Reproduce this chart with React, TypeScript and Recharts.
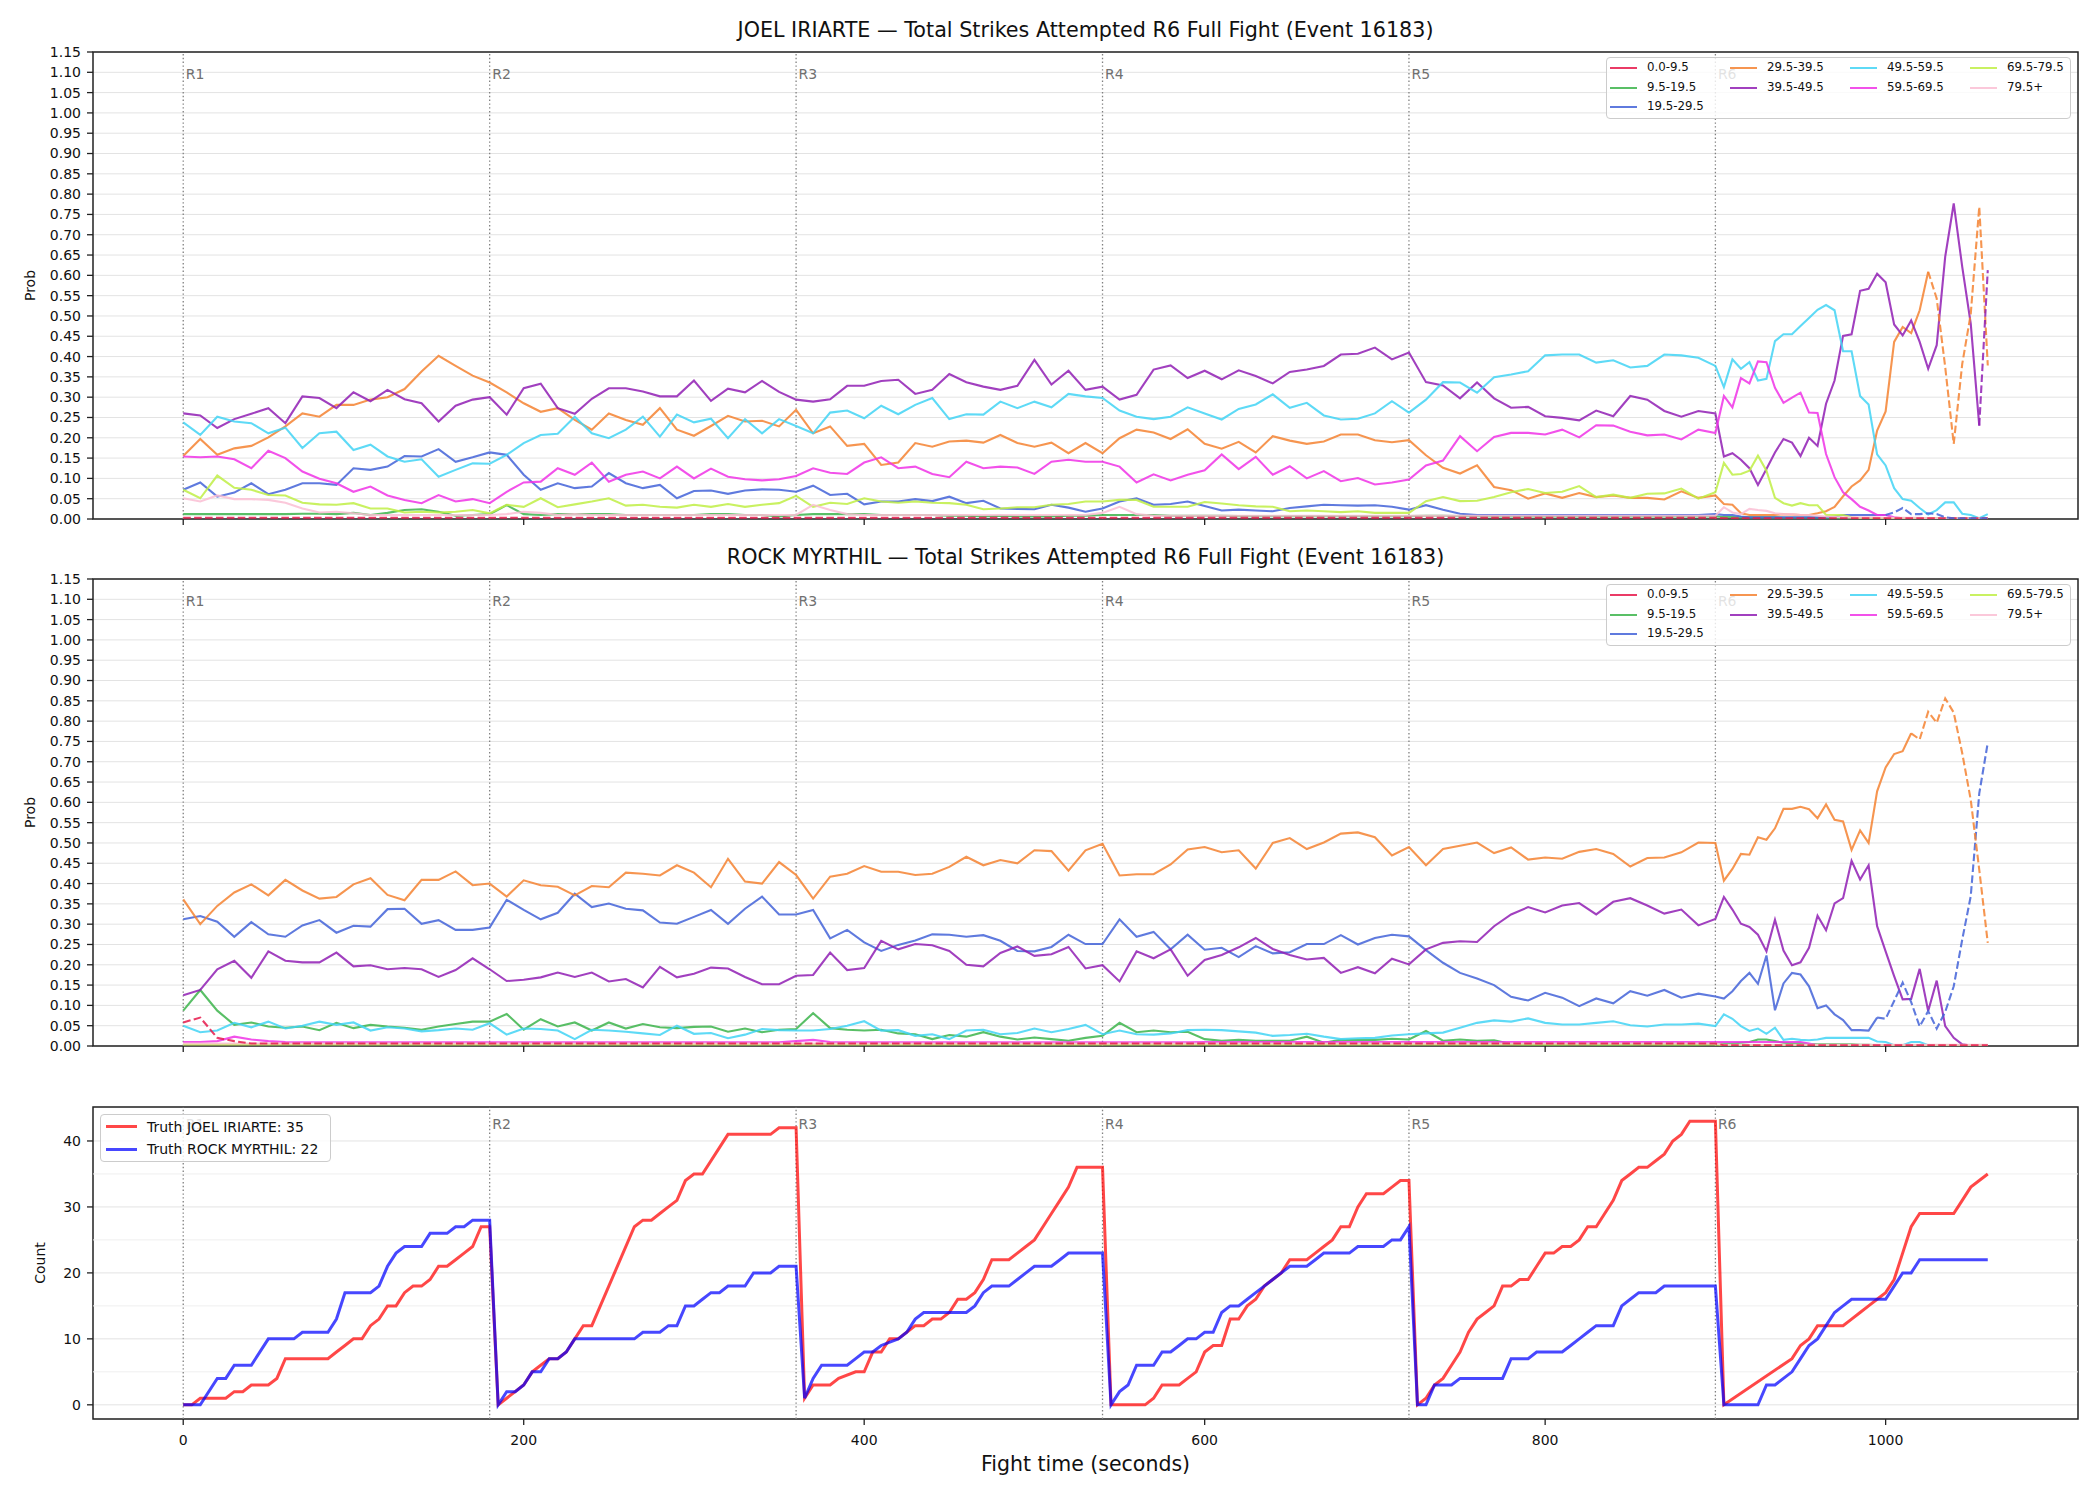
import React from 'react';
import { LineChart, Line, XAxis, YAxis, CartesianGrid, ReferenceLine, ReferenceArea } from 'recharts';

const FONT = '"DejaVu Sans", Verdana, sans-serif';

// ---- categories / ticks ----
const bins = ['0.0-9.5', '9.5-19.5', '19.5-29.5', '29.5-39.5', '39.5-49.5', '49.5-59.5', '59.5-69.5', '69.5-79.5', '79.5+'];
const binColors = ['#e6194b', '#3cb44b', '#4363d8', '#f58231', '#911eb4', '#42d4f4', '#f032e6', '#bfef45', '#fabed4'];
const legendColumns = [[0, 1, 2], [3, 4], [5, 6], [7, 8]];
const roundStarts = [0, 180, 360, 540, 720, 900];
const roundLabels = ['R1', 'R2', 'R3', 'R4', 'R5', 'R6'];
const timeTicks = [0, 200, 400, 600, 800, 1000];
const probTicks = [0, 0.05, 0.1, 0.15, 0.2, 0.25, 0.3, 0.35, 0.4, 0.45, 0.5, 0.55, 0.6, 0.65, 0.7, 0.75, 0.8, 0.85, 0.9, 0.95, 1.0, 1.05, 1.1, 1.15];
const countTicks = [0, 10, 20, 30, 40];
const countMinorGrid = [5, 15, 25, 35];

// sample times (s): every 10 s through R5, every 5 s in R6
const times = [
  0, 10, 20, 30, 40, 50, 60, 70, 80, 90,
  100, 110, 120, 130, 140, 150, 160, 170, 180, 190,
  200, 210, 220, 230, 240, 250, 260, 270, 280, 290,
  300, 310, 320, 330, 340, 350, 360, 370, 380, 390,
  400, 410, 420, 430, 440, 450, 460, 470, 480, 490,
  500, 510, 520, 530, 540, 550, 560, 570, 580, 590,
  600, 610, 620, 630, 640, 650, 660, 670, 680, 690,
  700, 710, 720, 730, 740, 750, 760, 770, 780, 790,
  800, 810, 820, 830, 840, 850, 860, 870, 880, 890,
  900,
  905, 910, 915, 920, 925, 930, 935, 940, 945, 950,
  955, 960, 965, 970, 975, 980, 985, 990, 995, 1000,
  1005, 1010, 1015, 1020, 1025, 1030, 1035, 1040, 1045, 1050,
  1055, 1060,
];

// ---- JOEL IRIARTE probabilities ----
const joelB0 = [
  0.003, 0.003, 0.003, 0.003, 0.003, 0.003, 0.003, 0.003, 0.003, 0.003,
  0.003, 0.003, 0.003, 0.003, 0.003, 0.003, 0.003, 0.003, 0.003, 0.003,
  0.003, 0.003, 0.003, 0.003, 0.003, 0.003, 0.003, 0.003, 0.003, 0.003,
  0.003, 0.003, 0.003, 0.003, 0.003, 0.003, 0.003, 0.003, 0.003, 0.003,
  0.003, 0.003, 0.003, 0.003, 0.003, 0.003, 0.003, 0.003, 0.003, 0.003,
  0.003, 0.003, 0.003, 0.003, 0.003, 0.003, 0.003, 0.003, 0.003, 0.003,
  0.003, 0.003, 0.003, 0.003, 0.003, 0.003, 0.003, 0.003, 0.003, 0.003,
  0.003, 0.003, 0.003, 0.003, 0.003, 0.003, 0.003, 0.003, 0.003, 0.003,
  0.003, 0.003, 0.003, 0.003, 0.003, 0.003, 0.003, 0.003, 0.003, 0.003,
  0.003,
  0.002, 0.002, 0.002, 0.002, 0.002, 0.002, 0.002, 0.002, 0.002, 0.002,
  0.002, 0.002, 0.002, 0.002, 0.002, 0.002, 0.002, 0.002, 0.002, 0.002,
  0.002, 0.002, 0.002, 0.002, 0.002, 0.002, 0.002, 0.002, 0.002, 0.002,
  0.002, 0.002,
];
const joelB1 = [
  0.012, 0.012, 0.012, 0.012, 0.012, 0.012, 0.012, 0.013, 0.013, 0.012,
  0.015, 0.010, 0.015, 0.022, 0.024, 0.018, 0.008, 0.010, 0.012, 0.034,
  0.012, 0.010, 0.012, 0.012, 0.012, 0.012, 0.010, 0.010, 0.010, 0.010,
  0.010, 0.012, 0.012, 0.010, 0.010, 0.006, 0.010, 0.012, 0.012, 0.012,
  0.012, 0.010, 0.010, 0.010, 0.010, 0.008, 0.008, 0.006, 0.008, 0.006,
  0.006, 0.006, 0.008, 0.008, 0.010, 0.010, 0.010, 0.010, 0.008, 0.008,
  0.008, 0.008, 0.007, 0.007, 0.007, 0.007, 0.007, 0.007, 0.007, 0.007,
  0.007, 0.007, 0.007, 0.008, 0.008, 0.007, 0.007, 0.006, 0.006, 0.006,
  0.006, 0.006, 0.006, 0.006, 0.006, 0.006, 0.006, 0.006, 0.006, 0.006,
  0.006,
  0.005, 0.005, 0.004, 0.004, 0.004, 0.004, 0.004, 0.003, 0.003, 0.003,
  0.003, 0.003, 0.002, 0.002, 0.002, 0.002, 0.002, 0.002, 0.001, 0.001,
  0.001, 0.001, 0.001, 0.001, 0.001, 0.001, 0.001, 0.001, 0.001, 0.001,
  0.001, 0.001,
];
const joelB2 = [
  0.072, 0.090, 0.055, 0.065, 0.088, 0.061, 0.072, 0.088, 0.088, 0.084,
  0.125, 0.121, 0.129, 0.155, 0.154, 0.172, 0.141, 0.152, 0.164, 0.158,
  0.109, 0.072, 0.088, 0.076, 0.080, 0.113, 0.088, 0.076, 0.084, 0.051,
  0.069, 0.070, 0.062, 0.070, 0.073, 0.072, 0.067, 0.082, 0.059, 0.062,
  0.036, 0.043, 0.043, 0.049, 0.044, 0.055, 0.039, 0.045, 0.026, 0.025,
  0.024, 0.035, 0.028, 0.018, 0.026, 0.043, 0.051, 0.035, 0.037, 0.043,
  0.032, 0.021, 0.023, 0.021, 0.019, 0.027, 0.031, 0.035, 0.034, 0.033,
  0.034, 0.030, 0.023, 0.034, 0.023, 0.013, 0.010, 0.010, 0.010, 0.010,
  0.010, 0.010, 0.010, 0.010, 0.010, 0.010, 0.010, 0.010, 0.010, 0.010,
  0.012,
  0.010, 0.010, 0.006, 0.004, 0.004, 0.004, 0.004, 0.004, 0.004, 0.004,
  0.004, 0.004, 0.004, 0.006, 0.010, 0.010, 0.010, 0.010, 0.010, 0.010,
  0.016, 0.027, 0.012, 0.012, 0.014, 0.012, 0.004, 0.002, 0.002, 0.002,
  0.002, 0.002,
];
const joelB3 = [
  0.155, 0.197, 0.158, 0.174, 0.180, 0.201, 0.228, 0.260, 0.252, 0.281,
  0.281, 0.294, 0.300, 0.320, 0.363, 0.402, 0.377, 0.353, 0.336, 0.312,
  0.285, 0.264, 0.273, 0.244, 0.220, 0.260, 0.244, 0.232, 0.273, 0.220,
  0.205, 0.229, 0.254, 0.240, 0.242, 0.228, 0.269, 0.211, 0.228, 0.180,
  0.185, 0.133, 0.139, 0.187, 0.178, 0.191, 0.193, 0.188, 0.207, 0.187,
  0.178, 0.188, 0.162, 0.187, 0.162, 0.199, 0.220, 0.213, 0.197, 0.221,
  0.185, 0.173, 0.190, 0.164, 0.204, 0.193, 0.185, 0.191, 0.208, 0.208,
  0.194, 0.189, 0.194, 0.157, 0.126, 0.112, 0.132, 0.079, 0.071, 0.050,
  0.063, 0.052, 0.064, 0.054, 0.058, 0.052, 0.052, 0.048, 0.068, 0.052,
  0.058,
  0.037, 0.035, 0.014, 0.010, 0.010, 0.010, 0.010, 0.012, 0.011, 0.010,
  0.010, 0.014, 0.019, 0.030, 0.056, 0.080, 0.095, 0.121, 0.218, 0.265,
  0.436, 0.473, 0.458, 0.514, 0.609, 0.543, 0.374, 0.185, 0.382, 0.505,
  0.769, 0.378,
];
const joelB4 = [
  0.260, 0.255, 0.224, 0.246, 0.259, 0.273, 0.236, 0.302, 0.298, 0.273,
  0.312, 0.290, 0.318, 0.295, 0.285, 0.240, 0.279, 0.294, 0.300, 0.257,
  0.322, 0.333, 0.273, 0.259, 0.296, 0.322, 0.322, 0.314, 0.302, 0.302,
  0.341, 0.291, 0.321, 0.312, 0.340, 0.313, 0.294, 0.289, 0.295, 0.328,
  0.328, 0.340, 0.343, 0.308, 0.318, 0.357, 0.337, 0.326, 0.318, 0.328,
  0.392, 0.331, 0.365, 0.318, 0.326, 0.294, 0.306, 0.368, 0.378, 0.347,
  0.365, 0.344, 0.366, 0.352, 0.334, 0.362, 0.368, 0.377, 0.405, 0.407,
  0.422, 0.393, 0.410, 0.337, 0.329, 0.297, 0.336, 0.297, 0.274, 0.276,
  0.253, 0.249, 0.243, 0.267, 0.253, 0.303, 0.294, 0.266, 0.252, 0.266,
  0.260,
  0.154, 0.162, 0.146, 0.125, 0.084, 0.123, 0.164, 0.197, 0.188, 0.155,
  0.200, 0.180, 0.284, 0.341, 0.451, 0.455, 0.562, 0.567, 0.604, 0.583,
  0.479, 0.452, 0.489, 0.436, 0.370, 0.428, 0.646, 0.777, 0.621, 0.481,
  0.230, 0.613,
];
const joelB5 = [
  0.238, 0.207, 0.252, 0.240, 0.236, 0.211, 0.225, 0.175, 0.211, 0.215,
  0.170, 0.183, 0.154, 0.141, 0.147, 0.104, 0.121, 0.137, 0.136, 0.158,
  0.187, 0.207, 0.210, 0.252, 0.211, 0.199, 0.220, 0.252, 0.203, 0.257,
  0.238, 0.247, 0.199, 0.246, 0.211, 0.246, 0.229, 0.211, 0.262, 0.267,
  0.248, 0.279, 0.258, 0.281, 0.298, 0.246, 0.258, 0.257, 0.289, 0.273,
  0.289, 0.275, 0.308, 0.302, 0.298, 0.267, 0.252, 0.246, 0.252, 0.275,
  0.260, 0.245, 0.271, 0.282, 0.307, 0.274, 0.286, 0.255, 0.245, 0.247,
  0.260, 0.290, 0.262, 0.294, 0.337, 0.336, 0.311, 0.349, 0.356, 0.364,
  0.403, 0.405, 0.405, 0.385, 0.391, 0.373, 0.377, 0.405, 0.403, 0.397,
  0.377,
  0.325, 0.393, 0.370, 0.386, 0.341, 0.345, 0.438, 0.455, 0.455, 0.475,
  0.495, 0.515, 0.527, 0.514, 0.413, 0.413, 0.303, 0.282, 0.159, 0.132,
  0.076, 0.049, 0.045, 0.027, 0.011, 0.022, 0.041, 0.041, 0.013, 0.010,
  0.002, 0.012,
];
const joelB6 = [
  0.154, 0.152, 0.154, 0.147, 0.125, 0.168, 0.150, 0.117, 0.099, 0.088,
  0.067, 0.080, 0.058, 0.047, 0.039, 0.059, 0.043, 0.049, 0.039, 0.067,
  0.090, 0.092, 0.125, 0.109, 0.139, 0.092, 0.109, 0.117, 0.100, 0.129,
  0.100, 0.124, 0.104, 0.098, 0.095, 0.098, 0.106, 0.125, 0.114, 0.111,
  0.139, 0.152, 0.125, 0.129, 0.111, 0.103, 0.141, 0.125, 0.129, 0.127,
  0.111, 0.141, 0.146, 0.141, 0.141, 0.129, 0.090, 0.110, 0.095, 0.109,
  0.120, 0.159, 0.123, 0.153, 0.109, 0.130, 0.100, 0.118, 0.093, 0.101,
  0.085, 0.090, 0.097, 0.132, 0.144, 0.204, 0.167, 0.202, 0.212, 0.212,
  0.208, 0.220, 0.201, 0.231, 0.230, 0.215, 0.206, 0.208, 0.196, 0.220,
  0.212,
  0.303, 0.275, 0.347, 0.334, 0.388, 0.386, 0.323, 0.286, 0.299, 0.311,
  0.262, 0.261, 0.160, 0.103, 0.066, 0.049, 0.030, 0.021, 0.010, 0.010,
  0.004, 0.002, 0.001, 0.001, 0.001, 0.001, 0.001, 0.001, 0.001, 0.001,
  0.001, 0.001,
];
const joelB7 = [
  0.072, 0.051, 0.107, 0.077, 0.072, 0.059, 0.058, 0.040, 0.036, 0.035,
  0.039, 0.026, 0.026, 0.016, 0.018, 0.016, 0.018, 0.022, 0.014, 0.035,
  0.030, 0.051, 0.029, 0.036, 0.043, 0.051, 0.033, 0.035, 0.030, 0.028,
  0.035, 0.030, 0.037, 0.030, 0.035, 0.039, 0.057, 0.030, 0.040, 0.037,
  0.051, 0.043, 0.040, 0.043, 0.040, 0.039, 0.035, 0.024, 0.026, 0.029,
  0.029, 0.035, 0.037, 0.043, 0.043, 0.047, 0.047, 0.030, 0.030, 0.030,
  0.042, 0.038, 0.034, 0.031, 0.030, 0.019, 0.021, 0.019, 0.017, 0.019,
  0.015, 0.015, 0.015, 0.044, 0.054, 0.044, 0.045, 0.054, 0.066, 0.074,
  0.064, 0.067, 0.081, 0.054, 0.060, 0.052, 0.062, 0.063, 0.075, 0.050,
  0.066,
  0.138, 0.109, 0.111, 0.119, 0.156, 0.119, 0.052, 0.039, 0.033, 0.039,
  0.034, 0.034, 0.010, 0.010, 0.010, 0.004, 0.002, 0.002, 0.002, 0.002,
  0.002, 0.002, 0.002, 0.002, 0.002, 0.002, 0.002, 0.002, 0.002, 0.002,
  0.002, 0.002,
];
const joelB8 = [
  0.051, 0.043, 0.058, 0.049, 0.049, 0.047, 0.040, 0.026, 0.016, 0.018,
  0.014, 0.010, 0.010, 0.010, 0.010, 0.010, 0.010, 0.010, 0.010, 0.012,
  0.018, 0.015, 0.010, 0.012, 0.010, 0.010, 0.010, 0.010, 0.010, 0.010,
  0.010, 0.010, 0.010, 0.010, 0.010, 0.010, 0.010, 0.035, 0.022, 0.012,
  0.010, 0.010, 0.010, 0.010, 0.010, 0.010, 0.010, 0.010, 0.010, 0.010,
  0.010, 0.010, 0.010, 0.010, 0.015, 0.030, 0.012, 0.008, 0.008, 0.008,
  0.008, 0.008, 0.008, 0.008, 0.008, 0.008, 0.008, 0.008, 0.008, 0.008,
  0.008, 0.008, 0.008, 0.008, 0.008, 0.008, 0.008, 0.008, 0.008, 0.008,
  0.008, 0.008, 0.008, 0.008, 0.008, 0.008, 0.008, 0.008, 0.008, 0.008,
  0.008,
  0.029, 0.016, 0.012, 0.025, 0.022, 0.020, 0.014, 0.012, 0.012, 0.010,
  0.010, 0.008, 0.006, 0.005, 0.004, 0.004, 0.004, 0.004, 0.004, 0.003,
  0.003, 0.003, 0.003, 0.003, 0.002, 0.002, 0.002, 0.002, 0.002, 0.002,
  0.002, 0.002,
];
// time from which each bin's line is drawn dashed (-1: whole line, Infinity: never)
const joelDashFrom = [-1, Infinity, 1000, 1025, 1055, Infinity, Infinity, Infinity, Infinity];

// ---- ROCK MYRTHIL probabilities ----
const rockB0 = [
  0.058, 0.070, 0.020, 0.012, 0.006, 0.006, 0.006, 0.006, 0.006, 0.006,
  0.006, 0.006, 0.006, 0.006, 0.006, 0.006, 0.006, 0.006, 0.006, 0.006,
  0.006, 0.006, 0.006, 0.006, 0.006, 0.006, 0.006, 0.006, 0.006, 0.006,
  0.006, 0.006, 0.006, 0.006, 0.006, 0.006, 0.006, 0.006, 0.006, 0.006,
  0.006, 0.006, 0.006, 0.006, 0.006, 0.006, 0.006, 0.006, 0.006, 0.006,
  0.006, 0.006, 0.006, 0.006, 0.006, 0.006, 0.006, 0.006, 0.006, 0.006,
  0.006, 0.006, 0.006, 0.006, 0.006, 0.006, 0.006, 0.006, 0.006, 0.006,
  0.006, 0.006, 0.006, 0.006, 0.006, 0.006, 0.006, 0.006, 0.006, 0.006,
  0.006, 0.006, 0.006, 0.006, 0.006, 0.006, 0.006, 0.006, 0.006, 0.006,
  0.006,
  0.002, 0.002, 0.002, 0.002, 0.002, 0.002, 0.002, 0.002, 0.002, 0.002,
  0.002, 0.002, 0.002, 0.002, 0.002, 0.002, 0.002, 0.002, 0.002, 0.002,
  0.002, 0.002, 0.002, 0.002, 0.002, 0.002, 0.002, 0.002, 0.002, 0.002,
  0.002, 0.002,
];
const rockB1 = [
  0.087, 0.138, 0.087, 0.052, 0.058, 0.048, 0.045, 0.048, 0.039, 0.057,
  0.044, 0.052, 0.048, 0.045, 0.040, 0.048, 0.054, 0.060, 0.060, 0.079,
  0.040, 0.066, 0.048, 0.058, 0.038, 0.058, 0.043, 0.054, 0.046, 0.044,
  0.047, 0.048, 0.035, 0.043, 0.034, 0.040, 0.042, 0.081, 0.044, 0.040,
  0.038, 0.040, 0.031, 0.029, 0.017, 0.027, 0.023, 0.034, 0.023, 0.016,
  0.021, 0.017, 0.013, 0.020, 0.025, 0.057, 0.034, 0.038, 0.034, 0.035,
  0.017, 0.013, 0.015, 0.013, 0.013, 0.013, 0.023, 0.008, 0.015, 0.015,
  0.015, 0.018, 0.016, 0.037, 0.013, 0.016, 0.013, 0.014, 0.005, 0.004,
  0.004, 0.004, 0.006, 0.004, 0.004, 0.004, 0.006, 0.004, 0.004, 0.004,
  0.006,
  0.006, 0.006, 0.008, 0.010, 0.016, 0.016, 0.012, 0.008, 0.006, 0.006,
  0.005, 0.004, 0.004, 0.004, 0.004, 0.004, 0.003, 0.003, 0.002, 0.002,
  0.001, 0.001, 0.001, 0.001, 0.001, 0.001, 0.001, 0.001, 0.001, 0.001,
  0.001, 0.001,
];
const rockB2 = [
  0.312, 0.320, 0.306, 0.269, 0.305, 0.275, 0.269, 0.297, 0.310, 0.279,
  0.296, 0.294, 0.337, 0.338, 0.301, 0.310, 0.286, 0.286, 0.292, 0.360,
  0.335, 0.312, 0.328, 0.375, 0.342, 0.351, 0.338, 0.334, 0.304, 0.301,
  0.318, 0.335, 0.301, 0.338, 0.368, 0.324, 0.324, 0.335, 0.265, 0.286,
  0.255, 0.234, 0.249, 0.260, 0.275, 0.274, 0.269, 0.273, 0.259, 0.234,
  0.233, 0.244, 0.274, 0.251, 0.251, 0.312, 0.269, 0.281, 0.238, 0.274,
  0.237, 0.242, 0.219, 0.246, 0.228, 0.231, 0.251, 0.251, 0.273, 0.250,
  0.266, 0.274, 0.270, 0.236, 0.205, 0.180, 0.166, 0.150, 0.121, 0.112,
  0.131, 0.119, 0.098, 0.117, 0.105, 0.135, 0.124, 0.138, 0.119, 0.129,
  0.122,
  0.117, 0.135, 0.160, 0.180, 0.153, 0.223, 0.088, 0.154, 0.180, 0.176,
  0.147, 0.093, 0.100, 0.078, 0.064, 0.039, 0.039, 0.038, 0.070, 0.067,
  0.111, 0.156, 0.108, 0.048, 0.086, 0.043, 0.084, 0.147, 0.262, 0.369,
  0.622, 0.747,
];
const rockB3 = [
  0.361, 0.300, 0.345, 0.378, 0.398, 0.371, 0.409, 0.383, 0.363, 0.367,
  0.398, 0.413, 0.372, 0.359, 0.409, 0.409, 0.430, 0.396, 0.400, 0.368,
  0.408, 0.396, 0.392, 0.371, 0.394, 0.391, 0.427, 0.424, 0.420, 0.445,
  0.427, 0.391, 0.461, 0.405, 0.400, 0.453, 0.421, 0.363, 0.417, 0.424,
  0.443, 0.429, 0.429, 0.421, 0.424, 0.441, 0.466, 0.445, 0.458, 0.450,
  0.482, 0.480, 0.432, 0.482, 0.498, 0.420, 0.423, 0.423, 0.447, 0.484,
  0.490, 0.477, 0.482, 0.437, 0.500, 0.512, 0.485, 0.501, 0.523, 0.526,
  0.514, 0.469, 0.490, 0.445, 0.485, 0.493, 0.501, 0.475, 0.489, 0.459,
  0.464, 0.461, 0.478, 0.485, 0.473, 0.442, 0.463, 0.464, 0.477, 0.501,
  0.500,
  0.407, 0.436, 0.473, 0.471, 0.514, 0.508, 0.536, 0.584, 0.584, 0.589,
  0.583, 0.561, 0.595, 0.557, 0.553, 0.483, 0.531, 0.500, 0.627, 0.686,
  0.719, 0.726, 0.770, 0.755, 0.823, 0.796, 0.856, 0.821, 0.721, 0.606,
  0.434, 0.254,
];
const rockB4 = [
  0.125, 0.138, 0.189, 0.210, 0.168, 0.233, 0.210, 0.206, 0.206, 0.230,
  0.196, 0.199, 0.189, 0.192, 0.189, 0.170, 0.187, 0.216, 0.189, 0.160,
  0.163, 0.169, 0.181, 0.170, 0.181, 0.159, 0.165, 0.144, 0.195, 0.169,
  0.178, 0.193, 0.191, 0.170, 0.152, 0.152, 0.173, 0.175, 0.230, 0.187,
  0.192, 0.259, 0.238, 0.251, 0.248, 0.234, 0.200, 0.196, 0.229, 0.245,
  0.222, 0.226, 0.244, 0.191, 0.199, 0.159, 0.233, 0.216, 0.238, 0.173,
  0.212, 0.224, 0.243, 0.266, 0.239, 0.224, 0.213, 0.217, 0.180, 0.194,
  0.179, 0.215, 0.201, 0.238, 0.254, 0.258, 0.256, 0.295, 0.324, 0.342,
  0.329, 0.346, 0.352, 0.324, 0.355, 0.364, 0.346, 0.326, 0.336, 0.297,
  0.313,
  0.367, 0.336, 0.301, 0.293, 0.274, 0.233, 0.311, 0.235, 0.199, 0.206,
  0.242, 0.321, 0.285, 0.351, 0.364, 0.456, 0.410, 0.445, 0.295, 0.233,
  0.172, 0.115, 0.116, 0.190, 0.086, 0.161, 0.049, 0.020, 0.004, 0.001,
  0.001, 0.001,
];
const rockB5 = [
  0.050, 0.034, 0.038, 0.057, 0.046, 0.060, 0.043, 0.050, 0.060, 0.052,
  0.058, 0.038, 0.046, 0.043, 0.036, 0.039, 0.043, 0.040, 0.056, 0.028,
  0.043, 0.042, 0.038, 0.017, 0.040, 0.038, 0.035, 0.031, 0.027, 0.050,
  0.030, 0.032, 0.019, 0.028, 0.042, 0.039, 0.038, 0.038, 0.042, 0.050,
  0.061, 0.038, 0.039, 0.025, 0.029, 0.017, 0.038, 0.040, 0.029, 0.032,
  0.043, 0.034, 0.042, 0.052, 0.029, 0.038, 0.029, 0.028, 0.031, 0.039,
  0.040, 0.039, 0.036, 0.033, 0.025, 0.027, 0.030, 0.023, 0.017, 0.019,
  0.020, 0.026, 0.029, 0.031, 0.033, 0.045, 0.057, 0.063, 0.060, 0.068,
  0.057, 0.053, 0.053, 0.057, 0.061, 0.051, 0.048, 0.053, 0.053, 0.055,
  0.049,
  0.078, 0.067, 0.049, 0.037, 0.043, 0.030, 0.045, 0.015, 0.018, 0.015,
  0.014, 0.016, 0.020, 0.020, 0.020, 0.020, 0.020, 0.020, 0.011, 0.010,
  0.002, 0.002, 0.010, 0.010, 0.002, 0.001, 0.001, 0.001, 0.001, 0.001,
  0.001, 0.001,
];
const rockB6 = [
  0.010, 0.010, 0.012, 0.023, 0.016, 0.012, 0.010, 0.009, 0.009, 0.009,
  0.009, 0.009, 0.009, 0.009, 0.009, 0.009, 0.009, 0.009, 0.009, 0.009,
  0.009, 0.009, 0.009, 0.009, 0.009, 0.009, 0.009, 0.009, 0.009, 0.009,
  0.009, 0.009, 0.009, 0.009, 0.009, 0.009, 0.012, 0.015, 0.010, 0.009,
  0.009, 0.009, 0.009, 0.009, 0.009, 0.009, 0.009, 0.009, 0.009, 0.009,
  0.009, 0.009, 0.009, 0.009, 0.009, 0.009, 0.009, 0.009, 0.009, 0.009,
  0.010, 0.010, 0.010, 0.010, 0.010, 0.010, 0.010, 0.010, 0.010, 0.010,
  0.010, 0.010, 0.010, 0.010, 0.010, 0.010, 0.010, 0.010, 0.010, 0.010,
  0.010, 0.010, 0.010, 0.010, 0.010, 0.010, 0.010, 0.010, 0.010, 0.010,
  0.010,
  0.010, 0.010, 0.010, 0.010, 0.010, 0.010, 0.010, 0.010, 0.010, 0.010,
  0.006, 0.002, 0.001, 0.001, 0.001, 0.001, 0.001, 0.001, 0.001, 0.001,
  0.001, 0.001, 0.001, 0.001, 0.001, 0.001, 0.001, 0.001, 0.001, 0.001,
  0.001, 0.001,
];
const rockB7 = [
  0.004, 0.004, 0.004, 0.004, 0.004, 0.004, 0.004, 0.004, 0.004, 0.004,
  0.004, 0.004, 0.004, 0.004, 0.004, 0.004, 0.004, 0.004, 0.004, 0.004,
  0.004, 0.004, 0.004, 0.004, 0.004, 0.004, 0.004, 0.004, 0.004, 0.004,
  0.004, 0.004, 0.004, 0.004, 0.004, 0.004, 0.004, 0.004, 0.004, 0.004,
  0.004, 0.004, 0.004, 0.004, 0.004, 0.004, 0.004, 0.004, 0.004, 0.004,
  0.004, 0.004, 0.004, 0.004, 0.004, 0.004, 0.004, 0.004, 0.004, 0.004,
  0.004, 0.004, 0.004, 0.004, 0.004, 0.004, 0.004, 0.004, 0.004, 0.004,
  0.004, 0.004, 0.004, 0.004, 0.004, 0.004, 0.004, 0.004, 0.004, 0.004,
  0.004, 0.004, 0.004, 0.004, 0.004, 0.004, 0.004, 0.004, 0.004, 0.004,
  0.004,
  0.002, 0.002, 0.002, 0.002, 0.002, 0.002, 0.002, 0.002, 0.002, 0.002,
  0.002, 0.002, 0.002, 0.002, 0.002, 0.002, 0.002, 0.002, 0.002, 0.002,
  0.002, 0.002, 0.002, 0.002, 0.002, 0.002, 0.002, 0.002, 0.002, 0.002,
  0.002, 0.002,
];
const rockB8 = [
  0.006, 0.006, 0.006, 0.006, 0.006, 0.006, 0.006, 0.006, 0.006, 0.006,
  0.006, 0.006, 0.006, 0.006, 0.006, 0.006, 0.006, 0.006, 0.006, 0.006,
  0.006, 0.006, 0.006, 0.006, 0.006, 0.006, 0.006, 0.006, 0.006, 0.006,
  0.006, 0.006, 0.006, 0.006, 0.006, 0.006, 0.006, 0.006, 0.006, 0.006,
  0.006, 0.006, 0.006, 0.006, 0.006, 0.006, 0.006, 0.006, 0.006, 0.006,
  0.006, 0.006, 0.006, 0.006, 0.006, 0.006, 0.006, 0.006, 0.006, 0.006,
  0.006, 0.006, 0.006, 0.006, 0.006, 0.006, 0.006, 0.006, 0.006, 0.006,
  0.006, 0.006, 0.006, 0.006, 0.006, 0.006, 0.006, 0.006, 0.006, 0.006,
  0.006, 0.006, 0.006, 0.006, 0.006, 0.006, 0.006, 0.006, 0.006, 0.006,
  0.006,
  0.003, 0.003, 0.003, 0.003, 0.003, 0.003, 0.003, 0.003, 0.003, 0.003,
  0.003, 0.003, 0.003, 0.003, 0.003, 0.003, 0.003, 0.003, 0.003, 0.003,
  0.003, 0.003, 0.003, 0.003, 0.003, 0.003, 0.003, 0.003, 0.003, 0.003,
  0.003, 0.003,
];
const rockDashFrom = [-1, Infinity, 995, 1015, Infinity, Infinity, Infinity, Infinity, Infinity];

// ---- truth counts: [time, count] vertices ----
const joelTruth = [
  [0, 0], [5, 0], [10, 1], [25, 1], [30, 2], [35, 2], [40, 3], [50, 3], [55, 4], [60, 7], [85, 7], [90, 8], [95, 9], [100, 10], [105, 10],
  [110, 12], [115, 13], [120, 15], [125, 15], [130, 17], [135, 18], [140, 18], [145, 19], [150, 21], [155, 21], [160, 22], [165, 23], [170, 24], [175, 27], [180, 27],
  [185, 0], [190, 1], [195, 2], [200, 3], [205, 5], [210, 6], [215, 7], [220, 7], [225, 8], [230, 10], [235, 12], [240, 12], [265, 27], [270, 28], [275, 28],
  [280, 29], [285, 30], [290, 31], [295, 34], [300, 35], [305, 35], [320, 41], [345, 41], [350, 42], [360, 42],
  [365, 1], [370, 3], [380, 3], [385, 4], [395, 5], [400, 5], [405, 8], [410, 8], [415, 10], [420, 10], [425, 11], [430, 12], [435, 12], [440, 13], [445, 13],
  [450, 14], [455, 16], [460, 16], [465, 17], [470, 19], [475, 22], [485, 22], [490, 23], [495, 24], [500, 25], [505, 27], [510, 29], [515, 31], [520, 33], [525, 36], [540, 36],
  [545, 0], [565, 0], [570, 1], [575, 3], [585, 3], [590, 4], [595, 5], [600, 8], [605, 9], [610, 9], [615, 13], [620, 13], [625, 15], [630, 16], [635, 18],
  [640, 19], [645, 20], [650, 22], [660, 22], [665, 23], [670, 24], [675, 25], [680, 27], [685, 27], [690, 30], [695, 32], [705, 32], [710, 33], [715, 34], [720, 34],
  [725, 0], [730, 1], [735, 3], [740, 4], [745, 6], [750, 8], [755, 11], [760, 13], [765, 14], [770, 15], [775, 18], [780, 18], [785, 19], [790, 19], [795, 21],
  [800, 23], [805, 23], [810, 24], [815, 24], [820, 25], [825, 27], [830, 27], [835, 29], [840, 31], [845, 34], [850, 35], [855, 36], [860, 36], [865, 37], [870, 38],
  [875, 40], [880, 41], [885, 43], [900, 43],
  [905, 0], [945, 7], [950, 9], [955, 10], [960, 12], [975, 12], [980, 13], [985, 14], [990, 15], [995, 16], [1000, 17], [1005, 19], [1010, 23], [1015, 27], [1020, 29],
  [1040, 29], [1045, 31], [1050, 33], [1055, 34], [1060, 35],
];
const rockTruth = [
  [0, 0], [10, 0], [20, 4], [25, 4], [30, 6], [40, 6], [50, 10], [65, 10], [70, 11], [85, 11], [90, 13], [95, 17], [110, 17], [115, 18], [120, 21],
  [125, 23], [130, 24], [140, 24], [145, 26], [155, 26], [160, 27], [165, 27], [170, 28], [180, 28],
  [185, 0], [190, 2], [195, 2], [200, 3], [205, 5], [210, 5], [215, 7], [220, 7], [225, 8], [230, 10], [265, 10], [270, 11], [280, 11], [285, 12], [290, 12],
  [295, 15], [300, 15], [305, 16], [310, 17], [315, 17], [320, 18], [330, 18], [335, 20], [345, 20], [350, 21], [360, 21],
  [365, 1], [370, 4], [375, 6], [390, 6], [395, 7], [400, 8], [405, 8], [410, 9], [420, 10], [425, 11], [430, 13], [435, 14], [460, 14], [465, 15], [470, 17],
  [475, 18], [485, 18], [490, 19], [495, 20], [500, 21], [510, 21], [515, 22], [520, 23], [540, 23],
  [545, 0], [550, 2], [555, 3], [560, 6], [570, 6], [575, 8], [580, 8], [585, 9], [590, 10], [595, 10], [600, 11], [605, 11], [610, 14], [615, 15], [620, 15],
  [625, 16], [630, 17], [635, 18], [640, 19], [645, 20], [650, 21], [660, 21], [665, 22], [670, 23], [685, 23], [690, 24], [705, 24], [710, 25], [715, 25], [720, 27],
  [725, 0], [730, 0], [735, 3], [745, 3], [750, 4], [775, 4], [780, 7], [790, 7], [795, 8], [810, 8], [815, 9], [820, 10], [825, 11], [830, 12], [840, 12],
  [845, 15], [850, 16], [855, 17], [865, 17], [870, 18], [900, 18],
  [905, 0], [925, 0], [930, 3], [935, 3], [940, 4], [945, 5], [950, 7], [955, 9], [960, 10], [965, 12], [970, 14], [975, 15], [980, 16], [1000, 16], [1005, 18],
  [1010, 20], [1015, 20], [1020, 22], [1060, 22],
];

const X_DOMAIN = [-53, 1113];

function buildRows(series, dashFrom) {
  return times.map((t, i) => {
    const row = { t };
    series.forEach((s, k) => {
      const v = s[i];
      row['s' + k] = t <= dashFrom[k] ? v : null;
      row['d' + k] = t >= dashFrom[k] ? v : null;
    });
    return row;
  });
}

const roundLabel = (text, dy) => (props) => {
  const vb = props.viewBox || {};
  return (
    <text x={(vb.x || 0) + 2.5} y={(vb.y || 0) + dy} fill="#707070" fontSize={14} fontFamily={FONT} dominantBaseline="central">
      {text}
    </text>
  );
};

const yLabel = (text, x) => (props) => {
  const vb = props.viewBox || {};
  const cy = (vb.y || 0) + (vb.height || 0) / 2;
  return (
    <text transform={`translate(${x},${cy}) rotate(-90)`} textAnchor="middle" dominantBaseline="central" fontSize={14} fill="#111" fontFamily={FONT}>
      {text}
    </text>
  );
};

function ProbLegend({ top }) {
  const rowY = [10.3, 29.7, 48.7];
  return (
    <div style={{ position: 'absolute', left: 1606, top, width: 465, height: 62, boxSizing: 'border-box', border: '1px solid #cccccc', borderRadius: 4, background: 'rgba(255,255,255,0.8)' }}>
      {legendColumns.map((col, c) =>
        col.map((k, r) => (
          <div key={k} style={{ position: 'absolute', left: 3 + c * 120, top: rowY[r] - 8, height: 16, display: 'flex', alignItems: 'center' }}>
            <div style={{ width: 27, height: 2, background: binColors[k], opacity: 0.85 }} />
            <span style={{ marginLeft: 10, fontSize: 11.8, color: '#111', whiteSpace: 'nowrap', lineHeight: 1 }}>{bins[k]}</span>
          </div>
        ))
      )}
    </div>
  );
}

function ProbPanel({ top, title, series, dashFrom }) {
  const rows = buildRows(series, dashFrom);
  return (
    <>
      <div style={{ position: 'absolute', left: 1085.5, top: top + 30, transform: 'translate(-50%,-50%)', fontSize: 20.7, whiteSpace: 'nowrap', lineHeight: 1, color: '#111' }}>
        {title}
      </div>
      <div style={{ position: 'absolute', left: 0, top }}>
        <LineChart width={2100} height={554} data={rows} margin={{ top: 52, right: 22, bottom: 5, left: 0 }}>
          <CartesianGrid vertical={false} stroke="#e3e3e3" strokeWidth={1} />
          <XAxis
            dataKey="t"
            type="number"
            domain={X_DOMAIN}
            allowDataOverflow
            ticks={timeTicks}
            tickFormatter={() => ''}
            tickSize={6}
            tickLine={{ stroke: '#222', strokeWidth: 1.3 }}
            axisLine={false}
            height={30}
          />
          <YAxis
            type="number"
            domain={[0, 1.15]}
            allowDataOverflow
            ticks={probTicks}
            interval={0}
            width={93}
            tickFormatter={(v) => v.toFixed(2)}
            tick={{ fontSize: 14, fill: '#111', fontFamily: FONT }}
            tickSize={6}
            tickMargin={6}
            tickLine={{ stroke: '#222', strokeWidth: 1.3 }}
            axisLine={false}
            label={yLabel('Prob', 29.5)}
          />
          {roundStarts.map((r, i) => (
            <ReferenceLine key={r} x={r} stroke="#808080" strokeWidth={1.3} strokeDasharray="1.4 2.4" label={roundLabel(roundLabels[i], 22)} />
          ))}
          {bins.map((b, k) => (
            <Line key={'s' + k} dataKey={'s' + k} name={b} stroke={binColors[k]} strokeOpacity={0.85} strokeWidth={2.1} dot={false} activeDot={false} isAnimationActive={false} />
          ))}
          {bins.map((b, k) =>
            dashFrom[k] !== Infinity ? (
              <Line key={'d' + k} dataKey={'d' + k} name={b + ' (dashed)'} stroke={binColors[k]} strokeOpacity={0.85} strokeWidth={2.1} strokeDasharray="7.6 3.3" dot={false} activeDot={false} isAnimationActive={false} />
            ) : null
          )}
          <ReferenceArea x1={X_DOMAIN[0]} x2={X_DOMAIN[1]} y1={0} y2={1.15} fill="none" fillOpacity={0} stroke="#222" strokeWidth={1.5} ifOverflow="visible" />
        </LineChart>
      </div>
      <ProbLegend top={top + 57} />
    </>
  );
}

function TruthPanel({ top }) {
  const joelRows = joelTruth.map(([t, v]) => ({ t, v }));
  const rockRows = rockTruth.map(([t, v]) => ({ t, v }));
  return (
    <>
      <div style={{ position: 'absolute', left: 0, top }}>
        <LineChart width={2100} height={399} margin={{ top: 52, right: 22, bottom: 5, left: 0 }}>
          <CartesianGrid vertical={false} stroke="#e3e3e3" strokeWidth={1} />
          {countMinorGrid.map((g) => (
            <ReferenceLine key={'g' + g} y={g} stroke="#efefef" strokeWidth={1} />
          ))}
          <XAxis
            dataKey="t"
            type="number"
            domain={X_DOMAIN}
            allowDataOverflow
            ticks={timeTicks}
            tickSize={6}
            tickMargin={10}
            tick={{ fontSize: 14, fill: '#111', fontFamily: FONT }}
            tickLine={{ stroke: '#222', strokeWidth: 1.3 }}
            axisLine={false}
            height={30}
          />
          <YAxis
            type="number"
            domain={[-2.15, 45.15]}
            allowDataOverflow
            ticks={countTicks}
            interval={0}
            width={93}
            tick={{ fontSize: 14, fill: '#111', fontFamily: FONT }}
            tickSize={6}
            tickMargin={6}
            tickLine={{ stroke: '#222', strokeWidth: 1.3 }}
            axisLine={false}
            label={yLabel('Count', 40)}
          />
          {roundStarts.map((r, i) => (
            <ReferenceLine key={r} x={r} stroke="#808080" strokeWidth={1.3} strokeDasharray="1.4 2.4" label={roundLabel(roundLabels[i], 16.5)} />
          ))}
          <Line data={joelRows} dataKey="v" name="Truth JOEL IRIARTE: 35" stroke="#ff0000" strokeOpacity={0.72} strokeWidth={3} dot={false} activeDot={false} isAnimationActive={false} />
          <Line data={rockRows} dataKey="v" name="Truth ROCK MYRTHIL: 22" stroke="#0000ff" strokeOpacity={0.72} strokeWidth={3} dot={false} activeDot={false} isAnimationActive={false} />
          <ReferenceArea x1={X_DOMAIN[0]} x2={X_DOMAIN[1]} y1={-2.15} y2={45.15} fill="none" fillOpacity={0} stroke="#222" strokeWidth={1.5} ifOverflow="visible" />
        </LineChart>
      </div>
      <div style={{ position: 'absolute', left: 100, top: 1114, width: 231, height: 48, boxSizing: 'border-box', border: '1px solid #cccccc', borderRadius: 4, background: 'rgba(255,255,255,0.8)' }}>
        {[
          { label: 'Truth JOEL IRIARTE: 35', color: '#ff0000', y: 11.7 },
          { label: 'Truth ROCK MYRTHIL: 22', color: '#0000ff', y: 34 },
        ].map((it) => (
          <div key={it.label} style={{ position: 'absolute', left: 5, top: it.y - 9, height: 18, display: 'flex', alignItems: 'center' }}>
            <div style={{ width: 31, height: 3, background: it.color, opacity: 0.72 }} />
            <span style={{ marginLeft: 10, fontSize: 14, color: '#111', whiteSpace: 'nowrap', lineHeight: 1 }}>{it.label}</span>
          </div>
        ))}
      </div>
      <div style={{ position: 'absolute', left: 1085.5, top: 1463.5, transform: 'translate(-50%,-50%)', fontSize: 20.5, whiteSpace: 'nowrap', lineHeight: 1, color: '#111' }}>
        Fight time (seconds)
      </div>
    </>
  );
}

export default function App() {
  const joelSeries = [joelB0, joelB1, joelB2, joelB3, joelB4, joelB5, joelB6, joelB7, joelB8];
  const rockSeries = [rockB0, rockB1, rockB2, rockB3, rockB4, rockB5, rockB6, rockB7, rockB8];
  return (
    <div style={{ position: 'absolute', left: 0, top: 0, width: 2100, height: 1500, background: '#fff', fontFamily: FONT, overflow: 'hidden' }}>
      <ProbPanel top={0} title="JOEL IRIARTE — Total Strikes Attempted R6 Full Fight (Event 16183)" series={joelSeries} dashFrom={joelDashFrom} />
      <ProbPanel top={527} title="ROCK MYRTHIL — Total Strikes Attempted R6 Full Fight (Event 16183)" series={rockSeries} dashFrom={rockDashFrom} />
      <TruthPanel top={1055} />
    </div>
  );
}
